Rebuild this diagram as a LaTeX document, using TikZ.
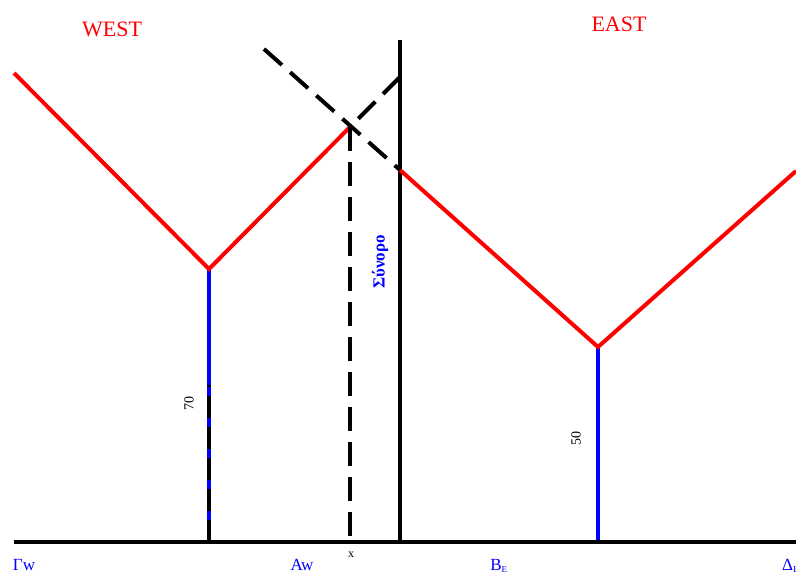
\documentclass[tikz,border=0pt]{standalone}
\usepackage{fontspec}
\setmainfont{Liberation Serif}
\usepackage{tikz}
\usetikzlibrary{positioning,calc}

\begin{document}
\begin{tikzpicture}[
  x=1pt, y=-1pt,
  redline/.style={red, line width=4pt, line join=miter},
  blueline/.style={blue, line width=4pt},
  solidline/.style={black, line width=4pt},
  dashline/.style={black, line width=4pt, dash pattern=on 24pt off 11pt},
  region/.style={red, font=\fontsize{22}{24}\selectfont},
  pointlbl/.style={blue, inner sep=0pt, anchor=base, font=\fontsize{17}{19}\selectfont},
  dimlbl/.style={black, rotate=90, font=\fontsize{14}{16}\selectfont},
]
\useasboundingbox (0,0) rectangle (796,576);
% points of the two cost curves
\coordinate (westtop) at (14,73);
\coordinate (westmin) at (209,269);
\coordinate (meet)    at (350,127);
\coordinate (bordtop) at (400,40);
\coordinate (bordhi)  at (400,77);
\coordinate (eastin)  at (400,170);
\coordinate (eastmin) at (598,347);
\coordinate (easttop) at (796,171);
\coordinate (cross)   at (264,49);
% feet on the axis
\coordinate (axl)   at (14,542);
\coordinate (axr)   at (796,542);
\coordinate (wfoot) at (209,542);
\coordinate (xfoot) at (350,542);
\coordinate (bfoot) at (400,542);
\coordinate (efoot) at (598,542);
\coordinate (wdash) at (209,385);

% blue verticals
\draw[blueline] (westmin) -- (wfoot);
\draw[blueline] (eastmin) -- (efoot);
\draw[black, line width=4pt, dash pattern=on 22pt off 9pt] (wfoot) -- (wdash);

% axis and border
\draw[solidline] (axl) -- (axr);
\draw[solidline] (bordtop) -- (bfoot);

% red curves
\draw[redline] (westtop) -- (westmin) -- (meet);
\draw[redline] (eastin) -- (eastmin) -- (easttop);

% dashed lines
\draw[dashline] (cross) -- (eastin);
\draw[dashline] (bordhi) -- (meet);
\draw[dashline] (meet) -- (xfoot);

% labels
\node[region] (west) at (112,29) {WEST};
\node[region] (east) at (619,24) {EAST};
\node[blue, rotate=90, font=\fontsize{17}{19}\selectfont\bfseries] (border) at (380,262) {Σύνορο};
\node[dimlbl] (dim70) at (189,403) {70};
\node[dimlbl] (dim50) at (576,438) {50};
\node[font=\fontsize{12}{14}\selectfont] (xlbl) at (351,555) {x};
\node[pointlbl] (gw) at (24,570) {Γw};
\node[pointlbl] (aw) at (302,570) {Aw};
\node[pointlbl] (be) at (499,570) {B\textsubscript{\fontsize{9}{10}\selectfont E}};
\node[pointlbl, anchor=base west] (de) at (782,570) {Δ\textsubscript{\fontsize{9}{10}\selectfont E}};
\end{tikzpicture}
\end{document}
